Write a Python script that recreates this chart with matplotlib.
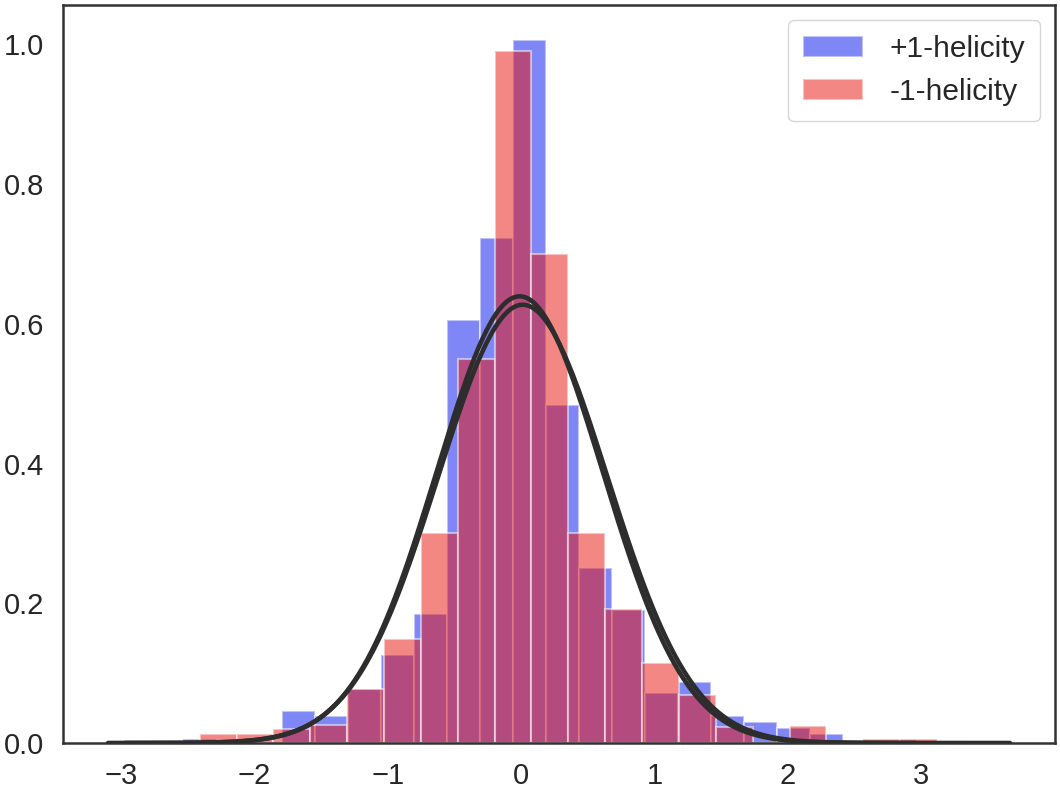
import matplotlib
matplotlib.use("Agg")
import matplotlib.pyplot as plt
import seaborn as sns
import numpy as np

# histogram data (density), 20 bins each
blue_range = (-2.538, 2.413)
blue_heights = [0.006, 0.0, 0.0, 0.046, 0.038, 0.077, 0.126, 0.184, 0.606, 0.723,
                1.006, 0.484, 0.250, 0.190, 0.071, 0.087, 0.038, 0.030, 0.022, 0.013]
red_range = (-2.410, 3.120)
red_heights = [0.013, 0.013, 0.020, 0.026, 0.077, 0.149, 0.301, 0.549, 0.990, 0.700,
               0.300, 0.192, 0.115, 0.069, 0.023, 0.0, 0.025, 0.0, 0.005, 0.005]

# normal fits: mean, sigma, support
blue_fit = (-0.01, 0.624, -3.097, 2.96)
red_fit = (0.013, 0.636, -2.97, 3.667)

labels = ['+1-helicity', '-1-helicity']

sns.set_style('white')
plt.rcParams['font.family'] = ['Liberation Sans', 'DejaVu Sans']
plt.rcParams['axes.edgecolor'] = '#333333'
plt.rcParams['axes.linewidth'] = 1.8

fig = plt.figure(figsize=(10.6, 7.91), dpi=100)
ax = fig.add_axes([0.0594, 0.0607, 0.9359, 0.9330])


def draw_hist(ax, rng, heights, color, label):
    edges = np.linspace(rng[0], rng[1], len(heights) + 1)
    centers = 0.5 * (edges[:-1] + edges[1:])
    ax.hist(centers, bins=edges, weights=heights, color=color, alpha=0.5,
            edgecolor='white', linewidth=1.5, label=label)


def draw_fit(ax, fit):
    mu, sd, lo, hi = fit
    xs = np.linspace(lo, hi, 400)
    ys = np.exp(-0.5 * ((xs - mu) / sd) ** 2) / (sd * np.sqrt(2 * np.pi))
    ax.plot(xs, ys, color='#2d2d2d', lw=3.3, zorder=5)


draw_hist(ax, blue_range, blue_heights, '#0010ee', labels[0])
draw_hist(ax, red_range, red_heights, '#e8100a', labels[1])
draw_fit(ax, blue_fit)
draw_fit(ax, red_fit)

ax.set_yticks([0.0, 0.2, 0.4, 0.6, 0.8, 1.0])
ax.set_xticks([-3, -2, -1, 0, 1, 2, 3])
ax.tick_params(labelsize=21, colors='#262626', pad=10)

ax.legend(loc='upper right', fontsize=21.5, frameon=True, handletextpad=0.9,
          borderaxespad=0.5, borderpad=0.5, labelspacing=0.5)

fig.savefig('out.png', dpi=100)
